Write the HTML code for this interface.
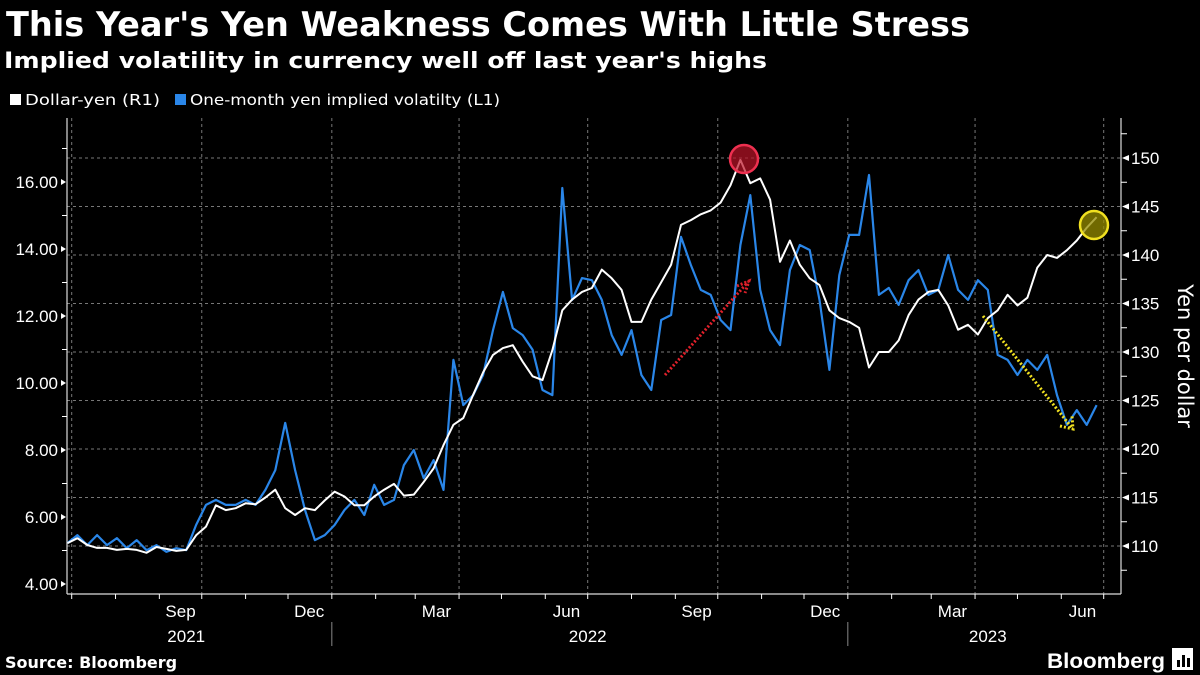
<!DOCTYPE html>
<html><head><meta charset="utf-8"><style>
html,body{margin:0;padding:0;background:#000;}
svg{display:block;}
</style></head><body>
<svg id="chart" width="1200" height="675" viewBox="0 0 1200 675" xmlns="http://www.w3.org/2000/svg" font-family="'DejaVu Sans','Liberation Sans',sans-serif">
<rect width="1200" height="675" fill="#000"/>
<text x="6" y="36" fill="#fff" font-weight="bold" font-size="34" textLength="964" lengthAdjust="spacingAndGlyphs">This Year's Yen Weakness Comes With Little Stress</text>
<text x="4" y="68" fill="#fff" font-weight="bold" font-size="22" textLength="763" lengthAdjust="spacingAndGlyphs">Implied volatility in currency well off last year's highs</text>
<g>
<rect x="10" y="94" width="11" height="11" fill="#fff"/>
<text x="25" y="105" fill="#fff" font-size="15" textLength="135" lengthAdjust="spacingAndGlyphs">Dollar-yen (R1)</text>
<rect x="175" y="94" width="11" height="11" fill="#2a86e8"/>
<text x="190" y="105" fill="#fff" font-size="15" textLength="310" lengthAdjust="spacingAndGlyphs">One-month yen implied volatilty (L1)</text>
</g>
<g id="grid"></g>
<g id="axes"></g>
<g id="series"></g>
<g id="annot"></g>
<text transform="translate(1178,356) rotate(90)" text-anchor="middle" fill="#fff" font-size="21">Yen per dollar</text>
<text x="5" y="668" fill="#fff" font-weight="bold" font-size="16">Source: Bloomberg</text>
<text x="1047" y="668" fill="#fff" font-weight="bold" font-size="21" textLength="118" lengthAdjust="spacingAndGlyphs" font-family="'Liberation Sans',sans-serif">Bloomberg</text>
<g>
<rect x="1172" y="648" width="21" height="22" fill="#fff"/>
<rect x="1177" y="660" width="3" height="7" fill="#000"/>
<rect x="1182" y="655" width="3" height="12" fill="#000"/>
<rect x="1187" y="658" width="3" height="9" fill="#000"/>
</g>
</svg>
<script>
// Weekly data starting 2021-06-28
const startDate = "2021-06-28";
const dollarYen = [110.3,110.8,110.1,109.8,109.8,109.6,109.7,109.6,109.3,109.9,109.7,109.5,109.6,111.1,112.0,114.2,113.7,113.9,114.4,114.3,115.0,115.8,113.9,113.2,113.9,113.7,114.7,115.6,115.1,114.2,114.2,115.1,115.8,116.4,115.2,115.3,116.6,118.0,120.4,122.5,123.2,125.6,127.9,129.7,130.4,130.7,129.0,127.5,127.1,130.2,134.3,135.4,136.2,136.6,138.5,137.6,136.4,133.1,133.1,135.4,137.2,139.0,143.1,143.6,144.2,144.6,145.4,147.2,149.8,147.4,147.9,145.7,139.3,141.5,139.0,137.6,136.9,134.3,133.5,133.1,132.5,128.4,130.0,130.0,131.2,133.8,135.4,136.2,136.4,134.8,132.3,132.8,131.8,133.5,134.3,135.9,134.8,135.6,138.7,140.0,139.7,140.5,141.5,142.8,143.9];
const impliedVol = [5.22,5.46,5.16,5.46,5.16,5.37,5.07,5.31,5.01,5.16,4.96,5.07,5.01,5.76,6.36,6.51,6.36,6.36,6.51,6.36,6.81,7.40,8.81,7.40,6.21,5.31,5.46,5.76,6.21,6.51,6.06,6.96,6.36,6.51,7.55,8.00,7.16,7.70,6.81,10.69,9.34,9.64,10.24,11.58,12.72,11.64,11.43,10.99,9.79,9.64,15.82,12.48,13.13,13.07,12.48,11.43,10.84,11.58,10.24,9.79,11.88,12.03,14.36,13.52,12.78,12.63,11.88,11.58,14.12,15.61,12.78,11.58,11.13,13.37,14.12,13.97,12.48,10.39,13.22,14.42,14.42,16.21,12.63,12.84,12.33,13.07,13.37,12.63,12.78,13.82,12.78,12.48,13.07,12.78,10.84,10.69,10.24,10.69,10.39,10.84,9.64,8.75,9.19,8.75,9.34];
const leftTicks = [4,6,8,10,12,14,16];
const leftTickLabels = ["4.00","6.00","8.00","10.00","12.00","14.00","16.00"];
const rightTicks = [110,115,120,125,130,135,140,145,150];
const monthLabels = ["Sep","Dec","Mar","Jun","Sep","Dec","Mar","Jun"];
const monthLabelDates = ["2021-09-16","2021-12-16","2022-03-16","2022-06-16","2022-09-16","2022-12-16","2023-03-16","2023-06-16"];
const yearLabels = ["2021","2022","2023"];
const yearLabelDates = ["2021-09-20","2022-07-01","2023-04-10"];

const NS="http://www.w3.org/2000/svg";
const X0=71.7, DAYPX=1032/730, ORIGIN=Date.UTC(2021,6,1);
function dayOf(s){const p=s.split("-");return (Date.UTC(+p[0],+p[1]-1,+p[2])-ORIGIN)/86400000;}
function xd(d){return X0+d*DAYPX;}
function xs(s){return xd(dayOf(s));}
function yL(v){return 584-(v-4)*33.5;}
function yR(v){return 546-(v-110)*9.7;}
function mk(tag,attrs,parent){const e=document.createElementNS(NS,tag);for(const k in attrs)e.setAttribute(k,attrs[k]);parent.appendChild(e);return e;}
const grid=document.getElementById("grid"),axes=document.getElementById("axes"),series=document.getElementById("series"),annot=document.getElementById("annot");
const PL=67,PR=1121,PT=118,PB=594;
// horizontal grid on right ticks
rightTicks.forEach(t=>{const l=mk("line",{x1:PL,x2:PR,y1:yR(t),y2:yR(t),stroke:"#777","stroke-width":1,"stroke-dasharray":"3,3"},grid);

});
// vertical quarter gridlines
["2021-07-01","2021-10-01","2022-01-01","2022-04-01","2022-07-01","2022-10-01","2023-01-01","2023-04-01","2023-07-01"].forEach(s=>{const x=xs(s);
const l=mk("line",{x1:x,x2:x,y1:PT,y2:PB,stroke:"#777","stroke-width":1,"stroke-dasharray":"3,3"},grid);

});
// axes lines
mk("line",{x1:PL,x2:PL,y1:PT,y2:PB,stroke:"#ddd","stroke-width":1.2},axes);
mk("line",{x1:PR,x2:PR,y1:PT,y2:PB,stroke:"#ddd","stroke-width":1.2},axes);
mk("line",{x1:PL,x2:PR,y1:PB,y2:PB,stroke:"#ddd","stroke-width":1.2},axes);
// left ticks
leftTicks.forEach((t,i)=>{const y=yL(t);
mk("path",{d:`M${PL-1} ${y} l-5 -3 v6 z`,fill:"#fff"},axes);
if(t+1<=17)mk("line",{x1:PL-5,x2:PL,y1:yL(t+1),y2:yL(t+1),stroke:"#fff"},axes);
const tx=mk("text",{x:58,y:y+6,"text-anchor":"end",fill:"#fff","font-size":17,"font-family":"'Liberation Sans',sans-serif"},axes);
tx.textContent=leftTickLabels[i];

});
// right ticks
for(let v=105;v<=152.5;v+=2.5){const y=yR(v);if(y<PT||y>PB)continue;
if(v%5===0&&v>=110){mk("path",{d:`M${PR+1} ${y} l7 -3 v6 z`,fill:"#fff"},axes);}
else mk("line",{x1:PR,x2:PR+6,y1:y,y2:y,stroke:"#fff"},axes);}
rightTicks.forEach(t=>{const tx=mk("text",{x:1131,y:yR(t)+6,fill:"#fff","font-size":17,"font-family":"'Liberation Sans',sans-serif"},axes);
tx.textContent=String(t);

});
// month ticks
for(let m=0;m<=24;m++){const dt=new Date(Date.UTC(2021,6+m,1));const x=xd((dt-ORIGIN)/86400000);
mk("line",{x1:x,x2:x,y1:PB,y2:PB+5,stroke:"#fff"},axes);}
monthLabels.forEach((m,i)=>{const tx=mk("text",{x:xs(monthLabelDates[i]),y:617,"text-anchor":"middle",fill:"#fff","font-size":17,"font-family":"'Liberation Sans',sans-serif"},axes);
tx.textContent=m;

});
yearLabels.forEach((m,i)=>{const tx=mk("text",{x:xs(yearLabelDates[i]),y:642,"text-anchor":"middle",fill:"#fff","font-size":17,"font-family":"'Liberation Sans',sans-serif"},axes);
tx.textContent=m;

});
["2022-01-01","2023-01-01"].forEach(s=>{mk("line",{x1:xs(s),x2:xs(s),y1:622,y2:646,stroke:"#888"},axes);});
// series
const d0=dayOf(startDate);
function pathFor(arr,yf){return arr.map((v,i)=>(i?"L":"M")+xd(d0+7*i).toFixed(1)+" "+yf(v).toFixed(1)).join(" ");}
const blue=mk("path",{d:pathFor(impliedVol,yL),fill:"none",stroke:"#2a86e8","stroke-width":2.2,"stroke-linejoin":"round"},series);


const white=mk("path",{d:pathFor(dollarYen,yR),fill:"none",stroke:"#fff","stroke-width":2,"stroke-linejoin":"round"},series);


// annotations
const ra=mk("line",{x1:665,y1:375,x2:748,y2:282,stroke:"#e0202a","stroke-width":3,"stroke-dasharray":"2,2"},annot);


mk("path",{d:"M737 286 L749 281 L745 293",fill:"none",stroke:"#e0202a","stroke-width":3,"stroke-dasharray":"2,2"},annot);
const ya=mk("line",{x1:983,y1:316,x2:1072,y2:428,stroke:"#f0e020","stroke-width":3,"stroke-dasharray":"2,2"},annot);


mk("path",{d:"M1060 426 L1073 429 L1072 416",fill:"none",stroke:"#f0e020","stroke-width":3,"stroke-dasharray":"2,2"},annot);
const rc=mk("circle",{cx:744,cy:159,r:14,fill:"rgba(190,20,40,0.7)",stroke:"#ee3050","stroke-width":2.5},annot);


const yc=mk("circle",{cx:1094,cy:225,r:14,fill:"rgba(150,140,0,0.75)",stroke:"#f0e020","stroke-width":2.5},annot);


</script>
</body></html>
